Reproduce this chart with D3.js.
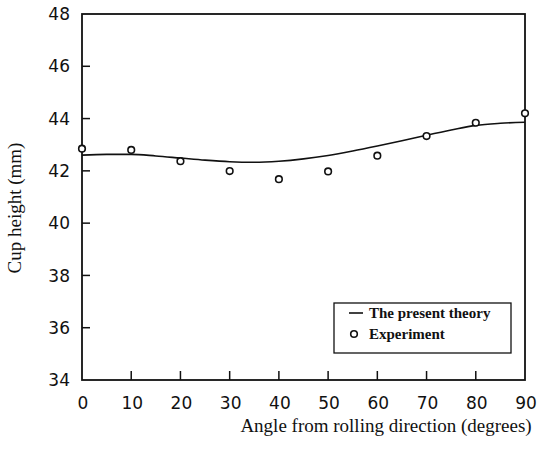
<!DOCTYPE html>
<html>
<head>
  <meta charset="utf-8">
  <script src="https://cdn.jsdelivr.net/npm/d3@7/dist/d3.min.js"></script>
  <style>
    body { margin: 0; background: #fff; }
    .tick-label { font: 17px "DejaVu Sans", sans-serif; fill: #111; }
    .axis-title { font: 19px "Liberation Serif", "Times New Roman", serif; fill: #111; }
    .legend-text { font: 15px "Liberation Serif", "Times New Roman", serif; font-weight: bold; fill: #111; }
  </style>
</head>
<body>
  <svg id="chart" width="538" height="453"></svg>
  <script>
    // measured points
    var angles = [0, 10, 20, 30, 40, 50, 60, 70, 80, 90];
    var experiment = [42.85, 42.8, 42.37, 41.99, 41.68, 41.98, 42.58, 43.33, 43.84, 44.2];

    // theory curve, read every 5 degrees
    var theoryAngles = [0, 5, 10, 15, 20, 25, 30, 35, 40, 45, 50, 55, 60, 65, 70, 75, 80, 85, 90];
    var theory = [42.6, 42.63, 42.63, 42.57, 42.49, 42.41, 42.35, 42.33, 42.37, 42.46, 42.59, 42.76, 42.95, 43.15, 43.36, 43.56, 43.74, 43.82, 43.86];

    var xTicks = [0, 10, 20, 30, 40, 50, 60, 70, 80, 90];
    var yTicks = [34, 36, 38, 40, 42, 44, 46, 48];

    var svg = d3.select("#chart");

    var x = d3.scaleLinear().domain([0, 90]).range([82, 525]);
    var y = d3.scaleLinear().domain([34, 48]).range([380, 14]);

    // frame
    svg.append("rect")
      .attr("x", x(0))
      .attr("y", y(48))
      .attr("width", x(90) - x(0))
      .attr("height", y(34) - y(48))
      .attr("fill", "none")
      .attr("stroke", "#111")
      .attr("stroke-width", 1.8);

    // inward ticks on y
    svg.append("g").selectAll("line")
      .data(yTicks.filter(d => d > 34 && d < 48))
      .enter().append("line")
      .attr("x1", x(0)).attr("x2", x(0) + 8)
      .attr("y1", d => y(d)).attr("y2", d => y(d))
      .attr("stroke", "#111").attr("stroke-width", 1.5);

    svg.append("g").selectAll("text")
      .data(yTicks)
      .enter().append("text")
      .attr("class", "tick-label")
      .attr("x", 70)
      .attr("y", d => y(d))
      .attr("dy", "0.36em")
      .attr("text-anchor", "end")
      .text(d => d);

    // inward ticks on x
    svg.append("g").selectAll("line")
      .data(xTicks.filter(d => d > 0 && d < 90))
      .enter().append("line")
      .attr("x1", d => x(d)).attr("x2", d => x(d))
      .attr("y1", y(34)).attr("y2", y(34) - 9)
      .attr("stroke", "#111").attr("stroke-width", 1.5);

    svg.append("g").selectAll("text")
      .data(xTicks)
      .enter().append("text")
      .attr("class", "tick-label")
      .attr("x", d => x(d) + 1)
      .attr("y", 409)
      .attr("text-anchor", "middle")
      .text(d => d);

    // axis titles
    svg.append("text")
      .attr("class", "axis-title")
      .attr("x", 386)
      .attr("y", 432)
      .attr("text-anchor", "middle")
      .text("Angle from rolling direction (degrees)");

    svg.append("text")
      .attr("class", "axis-title")
      .attr("transform", "translate(21,208) rotate(-90)")
      .attr("text-anchor", "middle")
      .text("Cup height (mm)");

    // theory line
    var line = d3.line()
      .x((d, i) => x(theoryAngles[i]))
      .y(d => y(d))
      .curve(d3.curveMonotoneX);

    svg.append("path")
      .datum(theory)
      .attr("d", line)
      .attr("fill", "none")
      .attr("stroke", "#111")
      .attr("stroke-width", 1.6);

    // experiment markers
    svg.append("g").selectAll("circle")
      .data(experiment)
      .enter().append("circle")
      .attr("cx", (d, i) => x(angles[i]))
      .attr("cy", d => y(d))
      .attr("r", 3.3)
      .attr("fill", "#fff")
      .attr("stroke", "#111")
      .attr("stroke-width", 1.6);

    // legend
    var lg = svg.append("g");
    lg.append("rect")
      .attr("x", 334).attr("y", 303)
      .attr("width", 177).attr("height", 50)
      .attr("fill", "#fff")
      .attr("stroke", "#111")
      .attr("stroke-width", 1.3);
    lg.append("line")
      .attr("x1", 349).attr("x2", 363)
      .attr("y1", 313).attr("y2", 313)
      .attr("stroke", "#111").attr("stroke-width", 1.6);
    lg.append("text")
      .attr("class", "legend-text")
      .attr("x", 369).attr("y", 318)
      .text("The present theory");
    lg.append("circle")
      .attr("cx", 354).attr("cy", 334)
      .attr("r", 3.3)
      .attr("fill", "#fff")
      .attr("stroke", "#111")
      .attr("stroke-width", 1.6);
    lg.append("text")
      .attr("class", "legend-text")
      .attr("x", 369).attr("y", 339)
      .text("Experiment");
  </script>
</body>
</html>
